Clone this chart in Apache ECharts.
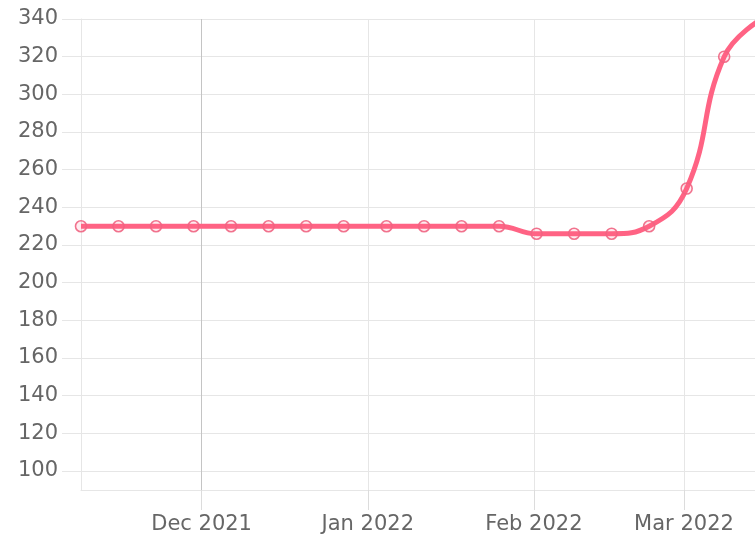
<!DOCTYPE html>
<html>
<head>
<meta charset="utf-8">
<script src="https://cdn.jsdelivr.net/npm/echarts@6/dist/echarts.min.js"></script>
<style>
html,body{margin:0;padding:0;background:#fff;}
#chart{width:755px;height:537px;}
</style>
</head>
<body>
<div id="chart"></div>
<script>
// Data (weekly observations)
var dates = [
  '2021-11-08T12:00:00','2021-11-15T12:00:00','2021-11-22T12:00:00','2021-11-29T12:00:00',
  '2021-12-06T12:00:00','2021-12-13T12:00:00','2021-12-20T12:00:00','2021-12-27T12:00:00',
  '2022-01-04T12:00:00','2022-01-11T12:00:00','2022-01-18T12:00:00','2022-01-25T12:00:00',
  '2022-02-01T12:00:00','2022-02-08T12:00:00','2022-02-15T12:00:00','2022-02-22T12:00:00',
  '2022-03-01T12:00:00','2022-03-08T12:00:00','2022-03-15T12:00:00'
];
var values = [230,230,230,230,230,230,230,230,230,230,230,230,226,226,226,230,250,320,340];
var monthTicks = ['2021-12-01T00:00:00','2022-01-01T00:00:00','2022-02-01T00:00:00','2022-03-01T00:00:00'];
var monthLabels = ['Dec 2021','Jan 2022','Feb 2022','Mar 2022'];
var yTickMin = 100, yTickMax = 340, yTickStep = 20;
var xMin = '2021-11-08T12:00:00', xMax = '2022-03-14T06:00:00';
var yMin = 90, yMax = 340;

function t(s){ return new Date(s).getTime(); }
var monthTickTimes = monthTicks.map(t);
var seriesData = dates.map(function(d,i){ return [t(d), values[i]]; });

var gridColor = '#e6e6e6';
var textColor = '#666666';
var font = 'DejaVu Sans';

var chart = echarts.init(document.getElementById('chart'), null, {renderer:'canvas'});
chart.setOption({
  animation:false,
  backgroundColor:'#ffffff',
  grid:[
    {left:81, top:19, right:0, height:471, containLabel:false},
    {left:81, top:19, right:0, height:452, containLabel:false}
  ],
  xAxis:[
    {
      type:'value', gridIndex:0, min:t(xMin), max:t(xMax),
      axisLine:{show:true, lineStyle:{color:gridColor, width:1}},
      axisTick:{show:true, customValues:monthTickTimes, length:20, lineStyle:{color:'#dcdcdc'}},
      splitLine:{show:true, lineStyle:{color:gridColor, width:1}},
      axisLabel:{
        show:true, customValues:monthTickTimes, margin:24,
        fontFamily:font, fontSize:21, color:textColor,
        formatter:function(v){
          var i = monthTickTimes.indexOf(v);
          return i >= 0 ? monthLabels[i] : '';
        }
      }
    },
    {type:'value', gridIndex:1, show:false, min:0, max:1}
  ],
  yAxis:[
    {
      type:'value', gridIndex:0, min:yMin, max:yMax,
      axisLine:{show:true, lineStyle:{color:gridColor}},
      axisTick:{show:false}, axisLabel:{show:false}, splitLine:{show:false}
    },
    {
      type:'value', gridIndex:1, min:yTickMin, max:yTickMax, interval:yTickStep,
      axisLine:{show:false},
      axisTick:{show:true, length:19, lineStyle:{color:gridColor}},
      splitLine:{show:true, lineStyle:{color:gridColor, width:1}},
      axisLabel:{margin:23, fontFamily:font, fontSize:21, color:textColor}
    }
  ],
  series:[
    {
      type:'line', xAxisIndex:0, yAxisIndex:0,
      data:seriesData,
      smooth:0.45,
      clip:false,
      symbol:'circle', symbolSize:11,
      lineStyle:{color:'#ff6384', width:5},
      itemStyle:{color:'rgba(255,99,132,0.12)', borderColor:'rgba(240,100,130,0.9)', borderWidth:1.6},
      z:3,
      markLine:{
        silent:true, symbol:'none', animation:false,
        label:{show:false},
        lineStyle:{color:'#c4c4c4', width:1, type:'solid'},
        data:[{xAxis:monthTickTimes[0]}],
        z:1
      }
    }
  ]
});
</script>
</body>
</html>
